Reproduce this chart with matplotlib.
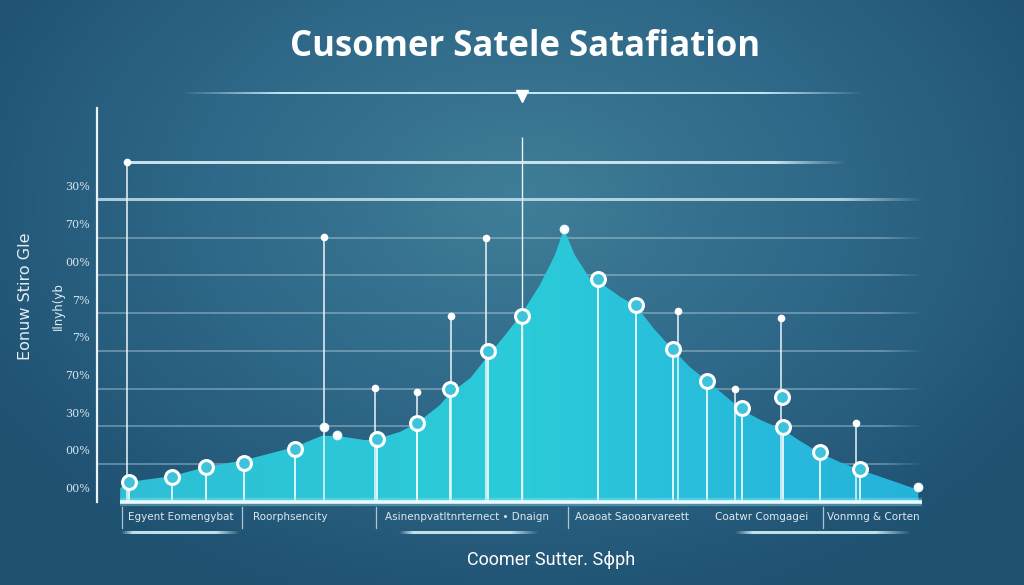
import numpy as np
import matplotlib.pyplot as plt
from matplotlib.colors import LinearSegmentedColormap, to_rgba
from matplotlib import transforms

# texts (as they appear on the picture)
title = "Cusomer Satele Satafiation"
x_title = "Coomer Sutter. Sɸph"
y_title = "Eonuw Stiro Gle"
y_title2 = "Ilnyh(yb"

# y axis
grid_levels = [10, 20, 30, 40, 50, 60, 70, 80, 90]
tick_levels = [0, 10, 20, 30, 40, 50, 60, 70, 80]
tick_labels = ["00%", "00%", "30%", "70%", "7%", "7%", "00%", "70%", "30%"]

# categories under the axis
categories = ["Egyent Eomengybat", "Roorphsencity", "Asinenpvatltnrternect • Dnaign",
              "Aoaoat Saooarvareett", "Coatwr Comgagei", "Vonmng & Corten"]
category_x = [10.1, 23.3, 44.7, 64.6, 80.3, 93.7]
separator_x = [3.0, 17.5, 33.7, 56.9, 87.7]

# area outline
curve_x = [2.8, 3.9, 9.1, 13.2, 17.8, 23.9, 27.2, 29.4, 32.4, 33.8, 36.6, 38.7, 41.4, 42.6,
           45.1, 47.2, 49.3, 51.3, 53.5, 55.3, 56.4, 57.7, 59.5, 60.5, 63.2, 65.1, 67.4, 69.6,
           71.6, 73.7, 75.9, 77.9, 80.1, 82.9, 84.9, 87.3, 89.7, 92.2, 95.8, 99.2]
curve_y = [3.7, 5.3, 6.9, 9.3, 11.1, 14.6, 17.6, 17.4, 16.4, 16.7, 18.6, 21.0, 25.7, 28.7,
           32.9, 38.7, 44.3, 49.9, 57.6, 65.5, 72.4, 65.5, 59.4, 58.6, 54.4, 52.0, 45.6, 40.3,
           35.8, 32.1, 28.1, 24.4, 21.8, 19.1, 16.2, 13.0, 10.6, 8.5, 5.8, 3.2]

# circle markers on the curve
point_x = [3.9, 9.1, 13.2, 17.8, 23.9, 33.8, 38.7, 42.6, 47.2, 51.3, 60.5, 65.1, 69.6,
           73.7, 77.9, 82.9, 87.3, 92.2]
point_y = [5.3, 6.6, 9.3, 10.3, 14.1, 16.7, 21.0, 30.0, 40.1, 49.3, 59.2, 52.3, 40.6,
           32.1, 24.9, 19.9, 13.3, 8.8]
extra_circle = (82.7, 27.9)
small_dots_x = [56.4, 99.2, 27.4, 29.0]
small_dots_y = [72.4, 4.0, 19.9, 17.8]

# pins (vertical lines with a dot on top)
pin_x = [3.6, 27.4, 33.6, 38.7, 42.8, 47.0, 70.2, 77.0, 82.6, 91.7]
pin_y = [90.2, 70.3, 30.2, 29.2, 49.3, 70.0, 50.7, 30.0, 48.8, 21.0]
tall_line = (51.3, 96.8)

W, H = 1024, 585
fig = plt.figure(figsize=(W / 100, H / 100), dpi=100)

# background
bg = fig.add_axes([0, 0, 1, 1])
bg.set_xlim(0, W)
bg.set_ylim(H, 0)
bg.axis("off")
yy, xx = np.mgrid[0:H, 0:W]
d = np.sqrt(((xx - 520) / 620.0) ** 2 + ((yy - 200) / 430.0) ** 2)
d = np.clip(d, 0, 1)
bg_cmap = LinearSegmentedColormap.from_list("bg", ["#3f7e98", "#2f6888", "#1f5171"])
bg.imshow(d, cmap=bg_cmap, extent=[0, W, H, 0], aspect="auto", zorder=0)


def fade_line(axis, x0, x1, y, color, alpha, lw_px, fade_l=0.0, fade_r=0.15, zorder=2):
    # horizontal line whose ends fade out, drawn as a thin rgba strip
    n = 400
    t = np.linspace(0, 1, n)
    a = np.ones(n)
    if fade_l > 0:
        a = np.minimum(a, np.clip(t / fade_l, 0, 1))
    if fade_r > 0:
        a = np.minimum(a, np.clip((1 - t) / fade_r, 0, 1))
    rgba = np.zeros((1, n, 4))
    rgba[..., :3] = to_rgba(color)[:3]
    rgba[0, :, 3] = alpha * a
    p0 = axis.transData.transform((x0, y))
    p1 = axis.transData.transform((x0, y + 1))
    h = lw_px / 2 / abs(p1[1] - p0[1])
    ylo, yhi = sorted([y - h, y + h])
    axis.imshow(rgba, extent=[x0, x1, ylo, yhi], aspect="auto", interpolation="bilinear",
                zorder=zorder, clip_on=False,
                origin="upper" if axis is bg else "lower")


# title and its rule
fig.text(0.513, 1 - 47 / H, title, ha="center", va="center", fontsize=25,
         fontweight="bold", color="white", family="Open Sans")
fade_line(bg, 180, 865, 93, "#c4e8f3", 1.0, 2.0, fade_l=0.15, fade_r=0.15)
bg.plot([522], [96], marker="v", ms=8, color="white", zorder=5)
bg.set_xlim(0, W)
bg.set_ylim(H, 0)

# main axes
ax = fig.add_axes([97 / W, 83 / H, 828 / W, 394 / H])
ax.set_xlim(0, 100)
ax.set_ylim(0, 104.5)
ax.patch.set_alpha(0)
for s in ["top", "right", "bottom"]:
    ax.spines[s].set_visible(False)
ax.spines["left"].set_color("#e8f4f8")
ax.spines["left"].set_linewidth(1.6)

# grid lines
for lv in grid_levels:
    if lv == 90:
        fade_line(ax, 3.6, 90.5, lv, "#d9eff6", 0.9, 2.2, fade_r=0.1, zorder=0.5)
    elif lv == 80:
        fade_line(ax, 0, 100, lv, "#d9eff6", 0.75, 2.2, fade_r=0.1, zorder=0.5)
    else:
        fade_line(ax, 0, 100, lv, "#cfe6ef", 0.35, 1.3, fade_r=0.05, zorder=0.5)

# area with gradient
poly = ax.fill_between(curve_x, curve_y, 0, color="none", lw=0)
area_cmap = LinearSegmentedColormap.from_list(
    "area", ["#2fbfd6", "#2cc6d8", "#2bcbd8", "#28bcdc", "#26b3da"])
grad = np.linspace(0, 1, 256).reshape(1, -1)
im = ax.imshow(grad, extent=[curve_x[0], curve_x[-1], 0, max(curve_y)], aspect="auto",
               cmap=area_cmap, origin="lower", zorder=1)
im.set_clip_path(poly.get_paths()[0], transform=ax.transData)

# drop lines and pins
ax.vlines(point_x, 0, point_y, color="white", lw=1.3, alpha=0.9, zorder=2)
ax.vlines(pin_x, 0, pin_y, color="#eef8fb", lw=1.2, alpha=0.9, zorder=2)
ax.plot(pin_x, pin_y, "o", ms=4.5, color="white", zorder=4, ls="none")
ax.vlines([tall_line[0]], 0, tall_line[1], color="#e6f4f8", lw=1.0, zorder=2)

# circles
ax.plot(point_x, point_y, "o", ms=10, mfc="#3ec3dc", mec="white", mew=2.2, ls="none", zorder=5)
ax.plot([extra_circle[0]], [extra_circle[1]], "o", ms=10, mfc="#3ec3dc", mec="white",
        mew=2.2, zorder=5)
ax.plot(small_dots_x, small_dots_y, "o", ms=6, mfc="white", mec="#e6f6fa", ls="none", zorder=5)

# baseline
ax.plot([2.8, 99.6], [0, 0], color="#9fe6f2", lw=6, alpha=0.35, clip_on=False, zorder=3,
        solid_capstyle="butt")
ax.plot([2.8, 99.6], [0, 0], color="#e8fbff", lw=2.6, clip_on=False, zorder=3,
        solid_capstyle="butt")

# y tick labels (sitting just above each grid line)
ax.set_yticks(tick_levels)
ax.set_yticklabels(tick_labels)
ax.tick_params(axis="y", length=0, pad=5, labelsize=8, labelcolor="#d5e6ee")
off = transforms.ScaledTranslation(0, 10 / 72, fig.dpi_scale_trans)
for lab in ax.get_yticklabels():
    lab.set_transform(lab.get_transform() + off)
    lab.set_family("DejaVu Serif")
ax.set_xticks([])

# categories under the axis
for cx, name in zip(category_x, categories):
    ax.text(cx, -4.0, name, ha="center", va="center", fontsize=7.5, color="#dbe9f0",
            clip_on=False)
for sx in separator_x:
    ax.plot([sx, sx], [-1.4, -7.0], color="#cfe2ea", lw=0.9, alpha=0.8, clip_on=False)
for x0, x1 in [(2.9, 17.2), (36.5, 53.4), (77.0, 98.2)]:
    fade_line(ax, x0, x1, -8.2, "#d4f0f8", 0.9, 2.6, fade_l=0.1, fade_r=0.2, zorder=3)

# axis titles
fig.text(551 / W, 1 - 560 / H, x_title, ha="center", va="center", fontsize=13,
         color="white", family=["Roboto", "DejaVu Sans"])
fig.text(26 / W, 1 - 296 / H, y_title, ha="center", va="center", fontsize=11.5,
         color="#e2eef3", rotation=90)
fig.text(58 / W, 1 - 306 / H, y_title2, ha="center", va="center", fontsize=8.5,
         color="#e2eef3", rotation=90)

ax.set_xlim(0, 100)
ax.set_ylim(0, 104.5)

fig.savefig("out.png", dpi=100)
